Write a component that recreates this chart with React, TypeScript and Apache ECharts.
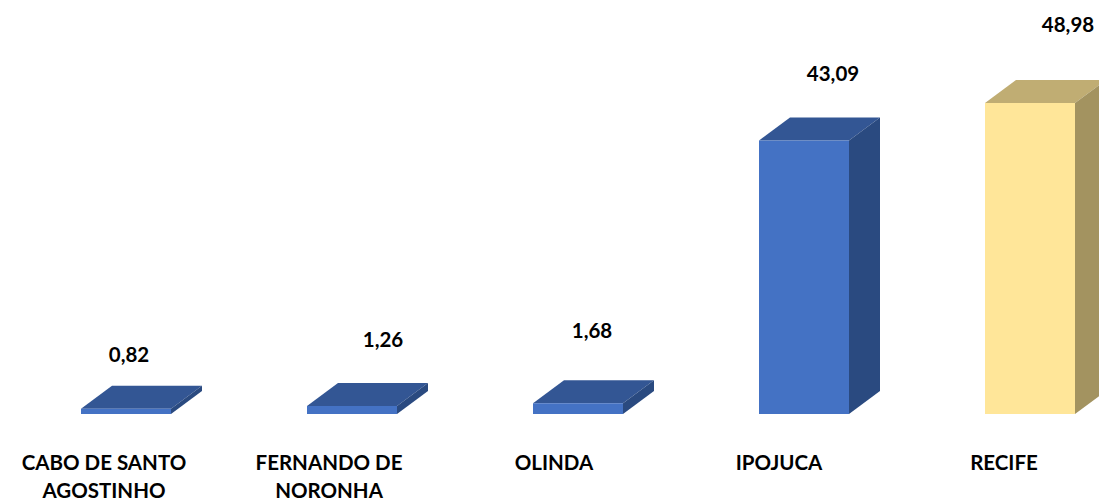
import React, { useEffect, useRef } from "react";
import * as echarts from "echarts";

const categories = ["CABO DE SANTO\nAGOSTINHO", "FERNANDO DE\nNORONHA", "OLINDA", "IPOJUCA", "RECIFE"];
const values = [0.82, 1.26, 1.68, 43.09, 48.98];
const valueLabels = ["0,82", "1,26", "1,68", "43,09", "48,98"];
const labelDx = [3, 31, 14, 29, 38];
const labelDy = [-55, -67, -73, -67, -79];
const frontColors = ["#4472C4", "#4472C4", "#4472C4", "#4472C4", "#FFE699"];
const topColors = ["#335694", "#335694", "#335694", "#335694", "#C0AD73"];
const sideColors = ["#2A4A80", "#2A4A80", "#2A4A80", "#2A4A80", "#A39360"];
const FONT = "Lato";
const BAR_W = 90;
const DEPTH_X = 31;
const DEPTH_Y = 23;

export default function App() {
  const ref = useRef<HTMLDivElement>(null);
  useEffect(() => {
    const chart = echarts.init(ref.current!, undefined, { renderer: "svg" });
    chart.setOption({
      animation: false,
      backgroundColor: "#ffffff",
      grid: [
        { left: 13, width: 1130, top: 33, height: 381, outerBoundsMode: "none" },
        { left: -8.5, width: 1125, top: 33, height: 381, outerBoundsMode: "none" },
      ],
      xAxis: [
        { type: "category", gridIndex: 0, data: categories, axisLine: { show: false }, axisTick: { show: false }, axisLabel: { show: false } },
        {
          type: "category",
          gridIndex: 1,
          data: categories,
          axisLine: { show: false },
          axisTick: { show: false },
          axisLabel: {
            interval: 0,
            margin: 34,
            color: "#000000",
            fontFamily: FONT,
            fontWeight: "bold",
            fontSize: 20.5,
            lineHeight: 28,
          },
        },
      ],
      yAxis: [
        { type: "value", gridIndex: 0, min: 0, max: 60, show: false },
        { type: "value", gridIndex: 1, min: 0, max: 60, show: false },
      ],
      series: [
        {
          type: "custom",
          xAxisIndex: 0,
          yAxisIndex: 0,
          clip: false,
          silent: true,
          data: values.map((v, i) => [i, v]),
          renderItem: (params: any, api: any) => {
            const i = params.dataIndex;
            const [cx, yTop] = api.coord([api.value(0), api.value(1)]);
            const [, yBase] = api.coord([api.value(0), 0]);
            const l = cx - BAR_W / 2;
            const r = cx + BAR_W / 2;
            return {
              type: "group",
              children: [
                {
                  type: "polygon",
                  shape: { points: [[l, yTop], [r, yTop], [r + DEPTH_X, yTop - DEPTH_Y], [l + DEPTH_X, yTop - DEPTH_Y]] },
                  style: { fill: topColors[i] },
                },
                {
                  type: "polygon",
                  shape: { points: [[r, yTop], [r + DEPTH_X, yTop - DEPTH_Y], [r + DEPTH_X, yBase - DEPTH_Y], [r, yBase]] },
                  style: { fill: sideColors[i] },
                },
                {
                  type: "polygon",
                  shape: { points: [[l, yTop], [r, yTop], [r, yBase], [l, yBase]] },
                  style: { fill: frontColors[i] },
                },
                {
                  type: "text",
                  style: {
                    text: valueLabels[i],
                    x: cx + labelDx[i],
                    y: yTop + labelDy[i],
                    align: "center",
                    verticalAlign: "middle",
                    fill: "#000000",
                    fontFamily: FONT,
                    fontWeight: "bold",
                    fontSize: 20.5,
                  },
                },
              ],
            };
          },
        },
      ],
    });
    return () => chart.dispose();
  }, []);
  return <div ref={ref} style={{ position: "fixed", left: 0, top: 0, width: 1099, height: 501 }} />;
}
